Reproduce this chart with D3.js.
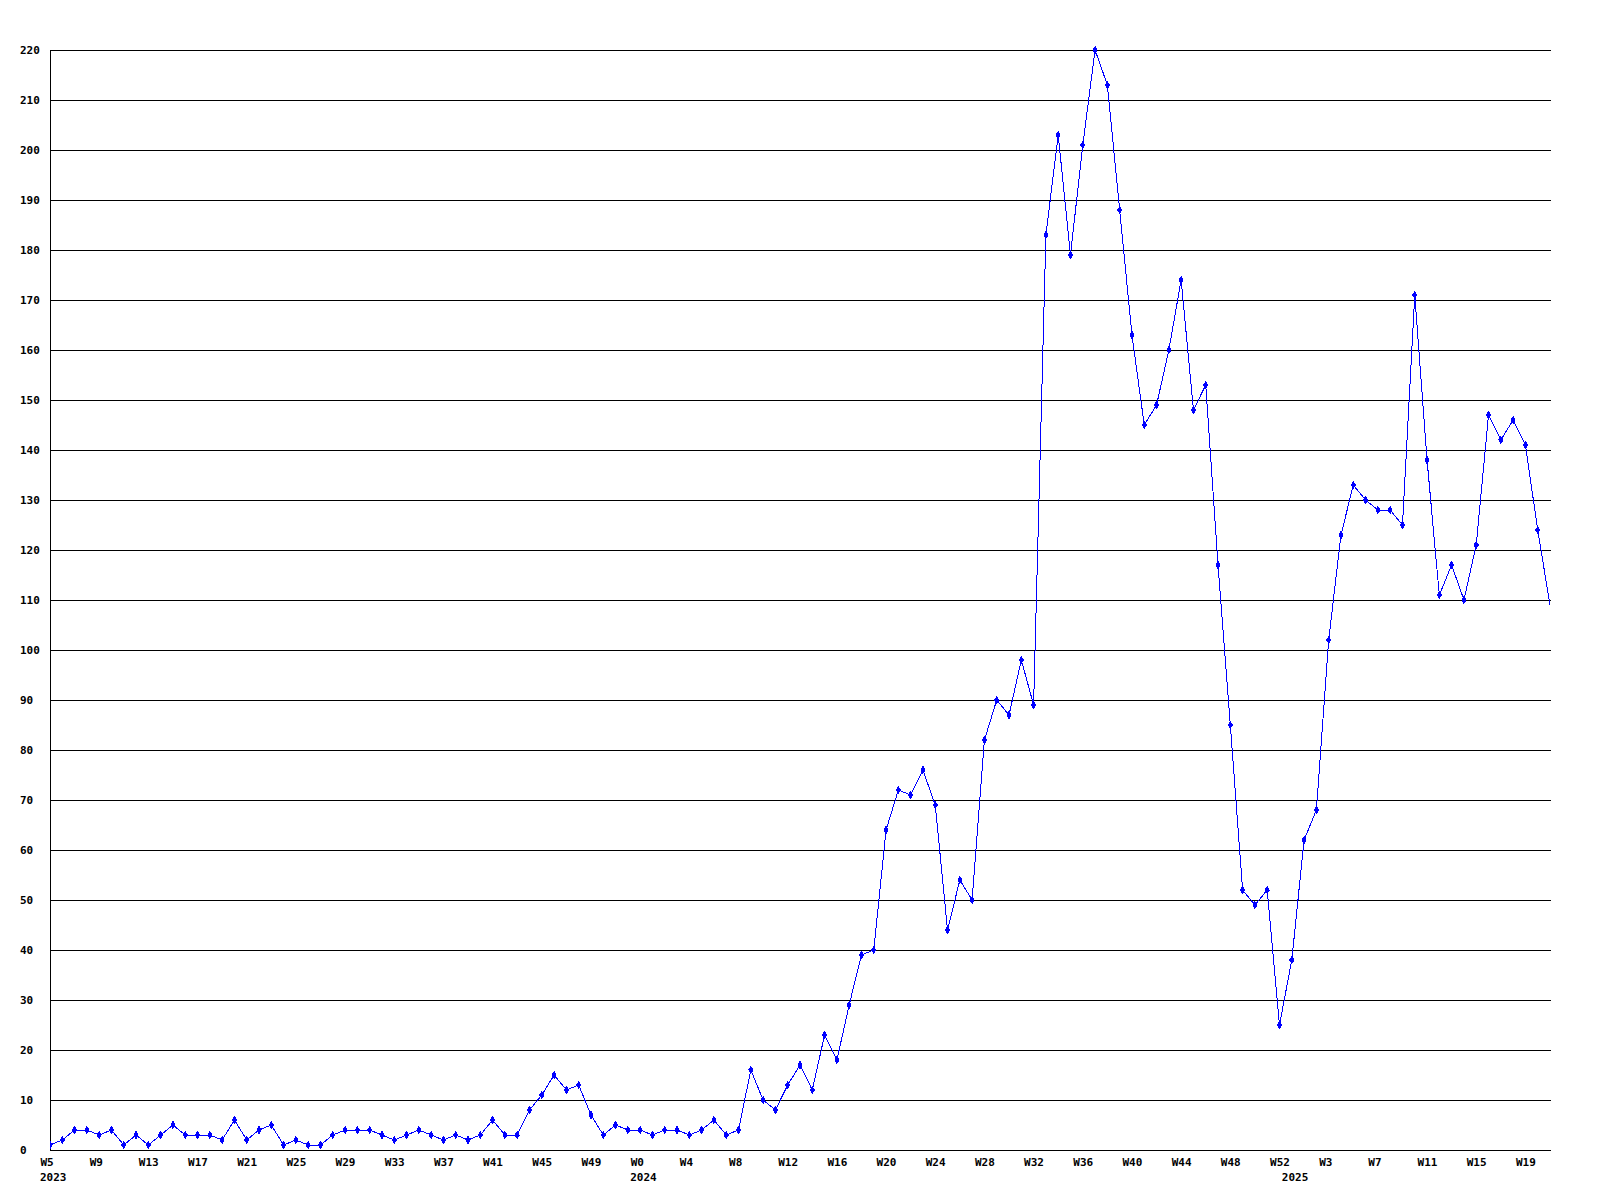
<!DOCTYPE html>
<html>
<head>
<meta charset="utf-8">
<script src="https://cdn.jsdelivr.net/npm/d3@7"></script>
<style>
  html, body { margin: 0; padding: 0; background: #ffffff; }
  svg { display: block; }
  text { font-family: "DejaVu Sans Mono", "Liberation Mono", monospace; font-weight: bold; font-size: 11px; fill: #000; }
</style>
</head>
<body>
<svg id="chart" width="1600" height="1200"></svg>
<script>
// ---- data ----
const years = [2023, 2024, 2025];
const firstWeek = [5, 0, 0];
const values2023 = [1,2,4,4,3,4,1,3,1,3, 5,3,3,3,2,6,2,4,5,1, 2,1,1,3,4,4,4,3,2,3, 4,3,2,3,2,3,6,3,3,8, 11,15,12,13,7,3,5,4];
const values2024 = [4,3,4,4,3,4,6,3,4,16, 10,8,13,17,12,23,18,29,39,40, 64,72,71,76,69,44,54,50,82,90, 87,98,89,183,203,179,201,220,213,188, 163,145,149,160,174,148,153,117,85,52, 49,52,25];
const values2025 = [38,62,68,102,123,133,130,128,128,125, 171,138,111,117,110,121,147,142,146,141, 124,109];
const yTicks = [0,10,20,30,40,50,60,70,80,90,100,110,120,130,140,150,160,170,180,190,200,210,220];
const tickEvery = 4;

// build category table
const series = [values2023, values2024, values2025];
const rows = [];
series.forEach((vals, yi) => {
  vals.forEach((v, i) => {
    const wk = firstWeek[yi] + i;
    rows.push({ key: years[yi] + "-W" + wk, year: years[yi], week: wk, value: v, first: i === 0 });
  });
});
const categories = rows.map(d => d.key);

// ---- layout ----
const mLeft = 50, mRight = 1550, mTop = 50, mBottom = 1150, gridRight = 1551;
const svg = d3.select("#chart");

const x = d3.scalePoint().domain(categories).range([mLeft, mRight]);
const y = d3.scaleLinear().domain([0, 220]).range([mBottom, mTop]);

// y axis + grid
const yAxis = svg.append("g")
  .attr("transform", `translate(${mLeft},0)`)
  .call(d3.axisLeft(y).tickValues(yTicks).tickSize(-(gridRight - mLeft)).tickSizeOuter(0).tickFormat(d3.format("d")));
yAxis.select(".domain").attr("stroke", "#000").attr("shape-rendering", "crispEdges");
yAxis.selectAll(".tick line").attr("stroke", "#000").attr("shape-rendering", "crispEdges");
yAxis.selectAll(".tick text")
  .attr("x", -30).attr("text-anchor", "start").attr("dy", "0.32em")
  .style("font-family", "'DejaVu Sans Mono', monospace").style("font-weight", "bold").style("font-size", "11px");

// x axis labels
const tickKeys = categories.filter((k, i) => i % tickEvery === 0);
const xAxis = svg.append("g")
  .attr("transform", `translate(0,${mBottom})`)
  .call(d3.axisBottom(x).tickValues(tickKeys).tickSize(0).tickFormat(k => "W" + k.split("-W")[1]));
xAxis.select(".domain").remove();
xAxis.selectAll(".tick text")
  .attr("x", -10).attr("y", 8).attr("dy", "0.71em").attr("text-anchor", "start")
  .style("font-family", "'DejaVu Sans Mono', monospace").style("font-weight", "bold").style("font-size", "11px");

// year labels
svg.append("g").selectAll("text")
  .data(rows.filter(d => d.first))
  .join("text")
  .attr("x", d => x(d.key) - 10)
  .attr("y", mBottom + 23)
  .attr("dy", "0.71em")
  .text(d => d.year);

// clip
svg.append("clipPath").attr("id", "plotclip")
  .append("rect").attr("x", mLeft).attr("y", mTop - 5).attr("width", mRight - mLeft + 0.5).attr("height", mBottom - mTop + 10);

const plot = svg.append("g").attr("clip-path", "url(#plotclip)");

const line = d3.line().x(d => x(d.key)).y(d => y(d.value));
plot.append("path")
  .datum(rows)
  .attr("d", line)
  .attr("fill", "none")
  .attr("stroke", "#0000ff")
  .attr("stroke-width", 1)
  .attr("shape-rendering", "crispEdges");

const marker = d3.symbol().type(d3.symbolDiamond).size(14);
plot.append("g").selectAll("path")
  .data(rows.slice(0, -1))
  .join("path")
  .attr("d", marker)
  .attr("transform", d => `translate(${x(d.key)},${y(d.value)})`)
  .attr("fill", "#0000ff")
  .attr("stroke", "#0000ff")
  .attr("stroke-width", 1)
  .attr("shape-rendering", "crispEdges");
</script>
</body>
</html>
